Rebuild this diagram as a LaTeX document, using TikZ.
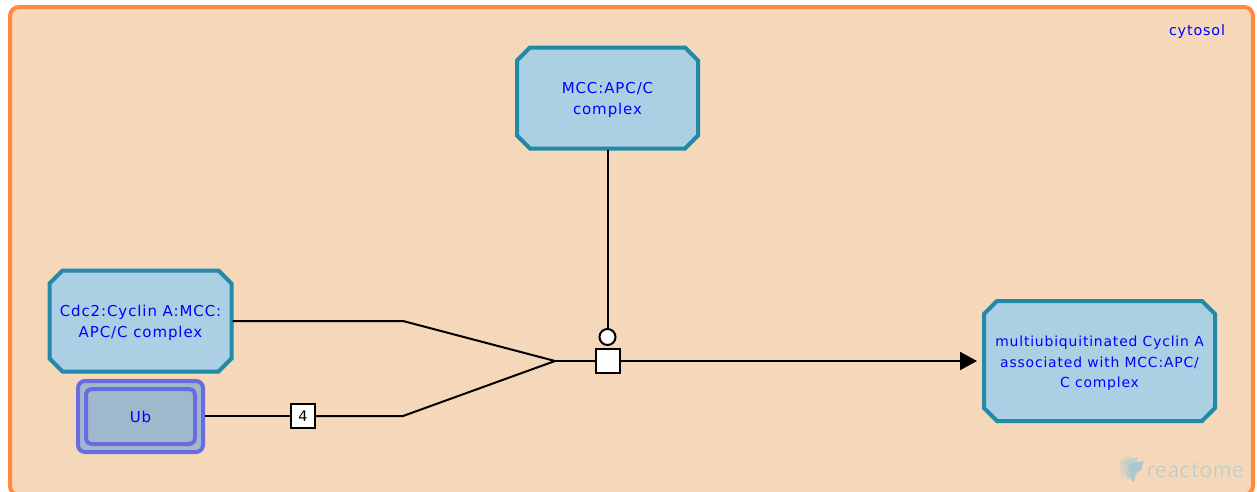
\documentclass[tikz,border=0pt]{standalone}
\usepackage{fontspec}
\setmainfont[LetterSpace=6]{DejaVu Sans}
\newfontfamily\logofont[LetterSpace=5]{Lato Light}
\usetikzlibrary{shapes.misc,arrows.meta}
\definecolor{compfill}{HTML}{F5D7BA}
\definecolor{compline}{HTML}{FF8A3D}
\definecolor{cplxfill}{HTML}{ACD0E3}
\definecolor{cplxline}{HTML}{2389A8}
\definecolor{ubfill}{HTML}{9FB9CC}
\definecolor{ubline}{HTML}{6B6BE0}
\definecolor{logocol}{HTML}{A9C9CC}
\newcommand\firstln{\rule{0pt}{15pt}}
\tikzset{
  x=1pt,y=-1pt,
  lbl/.style={text=blue,font=\fontsize{14.3}{20.5}\selectfont,align=center},
  biglbl/.style={font=\fontsize{15}{20.5}\selectfont},
  smalllbl/.style={font=\fontsize{13.9}{20.5}\selectfont},
  cplx/.style={lbl,chamfered rectangle,chamfered rectangle xsep=6.5pt,chamfered rectangle ysep=6.5pt,
    draw=cplxline,fill=cplxfill,line width=4pt,inner sep=0pt,outer sep=1pt},
  ubbox/.style={lbl,rectangle,rounded corners=7pt,draw=ubline,fill=ubfill,line width=4pt,inner sep=0pt},
  conn/.style={draw=black,line width=2pt},
  glyph/.style={draw=black,fill=white,line width=2pt,inner sep=0pt},
}
\begin{document}
\begin{tikzpicture}
\useasboundingbox (0,0) rectangle (1257,491);
\fill[white] (0,0) rectangle (1257,491);
\begin{scope}
\clip (0,0) rectangle (1257,491);
\node[draw=compline,fill=compfill,line width=4pt,rounded corners=9pt,minimum width=1243pt,minimum height=488pt,anchor=north west,inner sep=0pt] (compartment) at (8,5) {};
\end{scope}
\node[lbl,anchor=center] (cytosol) at (1197,32) {cytosol};
\node[cplx,biglbl,minimum width=181pt,minimum height=101pt] (mcc) at (607.5,98) {\firstln MCC:APC/C\\complex};
\node[cplx,biglbl,minimum width=182pt,minimum height=101pt] (cdc) at (140.5,321) {\firstln Cdc2:Cyclin A:MCC:\\APC/C complex};
\node[cplx,smalllbl,minimum width=231pt,minimum height=120pt] (multi) at (1099.5,361) {\firstln multiubiquitinated Cyclin A\\associated with MCC:APC/\\C complex};
\node[ubbox,minimum width=125pt,minimum height=71pt] (ubo) at (140.5,416.5) {};
\node[ubbox,biglbl,minimum width=109pt,minimum height=55pt,rounded corners=6pt] (ub) at (140.5,416.5) {Ub};
\coordinate (bendA) at (403,321);
\coordinate (bendB) at (403,416);
\coordinate (junction) at (555,361);
\node[glyph,minimum size=24pt] (rate) at (607.5,361) {};
\node[glyph,circle,minimum size=16pt] (cat) at (607.5,337) {};
\node[glyph,minimum size=24pt,font=\fontsize{14.5}{14.5}\selectfont] (stoich) at (303,416) {4};
\draw[conn] (mcc.south -| cat) -- (cat);
\draw[conn,line join=round] (cdc.east |- bendA) -- (bendA) -- (junction);
\draw[conn] (ubo.east |- stoich) -- (stoich);
\draw[conn,line join=round] (stoich) -- (bendB) -- (junction);
\draw[conn] (junction) -- (rate);
\draw[conn,-{Triangle[length=17pt,width=18pt]},shorten >=6pt] (rate) -- (multi.west |- rate);
% reactome logo
\node[text=logocol,font=\logofont\fontsize{22}{22}\selectfont,anchor=base west,inner sep=0pt] (logo) at (1147,477) {reactome};
\fill[logocol!35!compfill] (1119,461) -- (1132,455) -- (1132,472) -- (1122,477) -- cycle;
\fill[logocol!65!compfill] (1124,462) -- (1137,457) -- (1137,474) -- (1127,479) -- cycle;
\fill[logocol] (1128,464) -- (1144,461) -- (1141,470) -- (1136,473) -- (1134,482) -- (1131,480) -- cycle;
\end{tikzpicture}
\end{document}
